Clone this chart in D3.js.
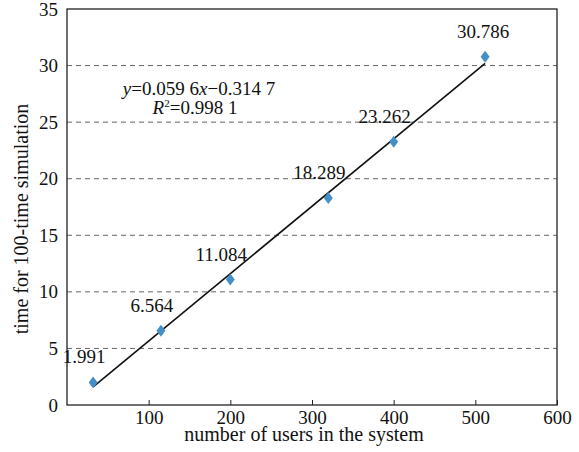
<!DOCTYPE html>
<html>
<head>
<meta charset="utf-8">
<script src="https://cdn.jsdelivr.net/npm/d3@7"></script>
<style>
  body { margin: 0; background: #fff; }
  #chart text { font-family: "Liberation Serif", "Times New Roman", serif !important; }
</style>
</head>
<body>
<svg id="chart" width="579" height="452"></svg>
<script>
// data
const users = [32, 115, 200, 320, 400, 512];
const times = [1.991, 6.564, 11.084, 18.289, 23.262, 30.786];
const xTicks = [100, 200, 300, 400, 500, 600];
const yTicks = [0, 5, 10, 15, 20, 25, 30, 35];
const slope = 0.0596;
const intercept = -0.3147;

const svg = d3.select("#chart");
const PAD = { left: 67, right: 22, top: 9, bottom: 47 };
const width = 579, height = 452;

const xscale = d3.scaleLinear().domain([0, 600]).range([PAD.left, width - PAD.right]);
const yscale = d3.scaleLinear().domain([0, 35]).range([height - PAD.bottom, PAD.top]);

// dashed grid
svg.append("g")
    .selectAll("line")
    .data(yTicks.filter(d => d > 0 && d < 35))
    .join("line")
    .attr("x1", xscale(0))
    .attr("x2", xscale(600))
    .attr("y1", d => yscale(d))
    .attr("y2", d => yscale(d))
    .attr("stroke", "#666")
    .attr("stroke-width", 1)
    .attr("stroke-dasharray", "5,4");

// frame
svg.append("rect")
    .attr("x", xscale(0))
    .attr("y", yscale(35))
    .attr("width", xscale(600) - xscale(0))
    .attr("height", yscale(0) - yscale(35))
    .attr("fill", "none")
    .attr("stroke", "#222")
    .attr("stroke-width", 1.3);

// x axis, ticks pointing in
const xaxis = d3.axisBottom(xscale).tickValues(xTicks).tickSizeInner(-5).tickSizeOuter(0).tickPadding(6);
const gx = svg.append("g")
    .attr("transform", `translate(0,${yscale(0)})`)
    .call(xaxis);
gx.select(".domain").remove();
gx.selectAll(".tick line").attr("stroke", "#222");
gx.selectAll(".tick text").attr("font-size", 19).attr("fill", "#111");

const yaxis = d3.axisLeft(yscale).tickValues(yTicks).tickSize(0).tickPadding(9);
const gy = svg.append("g")
    .attr("transform", `translate(${xscale(0)},0)`)
    .call(yaxis);
gy.select(".domain").remove();
gy.selectAll(".tick text").attr("font-size", 19).attr("fill", "#111");

// axis titles
svg.append("text")
    .attr("x", 304)
    .attr("y", 441)
    .attr("text-anchor", "middle")
    .attr("font-size", 20)
    .attr("fill", "#111")
    .text("number of users in the system");

svg.append("text")
    .attr("transform", "translate(28,219) rotate(-90)")
    .attr("text-anchor", "middle")
    .attr("font-size", 20)
    .attr("fill", "#111")
    .text("time for 100-time simulation");

// fitted line
const xext = d3.extent(users);
const line = d3.line()
    .x(d => xscale(d))
    .y(d => yscale(slope * d + intercept));
svg.append("path")
    .datum(xext)
    .attr("fill", "none")
    .attr("stroke", "#111")
    .attr("stroke-width", 1.6)
    .attr("d", line);

// markers: slightly tall diamond
const diamond = {
    draw(ctx, size) {
        const h = Math.sqrt(size) * 0.75, w = h * 0.75;
        ctx.moveTo(0, -h);
        ctx.lineTo(w, 0);
        ctx.lineTo(0, h);
        ctx.lineTo(-w, 0);
        ctx.closePath();
    }
};
const points = users.map((u, i) => ({ x: u, y: times[i] }));
svg.append("g")
    .selectAll("path")
    .data(points)
    .join("path")
    .attr("transform", d => `translate(${xscale(d.x)},${yscale(d.y)})`)
    .attr("d", d3.symbol().type(diamond).size(64))
    .attr("fill", "#4490c6");

// value labels
svg.append("g")
    .selectAll("text")
    .data(points)
    .join("text")
    .attr("x", (d, i) => xscale(d.x) - (i === points.length - 1 ? 2 : 9))
    .attr("y", d => yscale(d.y) - 19)
    .attr("text-anchor", "middle")
    .attr("font-size", 19)
    .attr("fill", "#111")
    .text(d => d.y.toFixed(3));

// equation
const eq = svg.append("text")
    .attr("x", 199)
    .attr("y", 95)
    .attr("text-anchor", "middle")
    .attr("font-size", 19)
    .attr("fill", "#111");
eq.append("tspan").attr("font-style", "italic").text("y");
eq.append("tspan").text("=0.059 6");
eq.append("tspan").attr("font-style", "italic").text("x");
eq.append("tspan").text("\u22120.314 7");

const r2 = svg.append("text")
    .attr("x", 195)
    .attr("y", 114)
    .attr("text-anchor", "middle")
    .attr("font-size", 19)
    .attr("fill", "#111");
r2.append("tspan").attr("font-style", "italic").text("R");
r2.append("tspan").attr("font-size", 11).attr("dy", -7).text("2");
r2.append("tspan").attr("dy", 7).text("=0.998 1");
</script>
</body>
</html>
